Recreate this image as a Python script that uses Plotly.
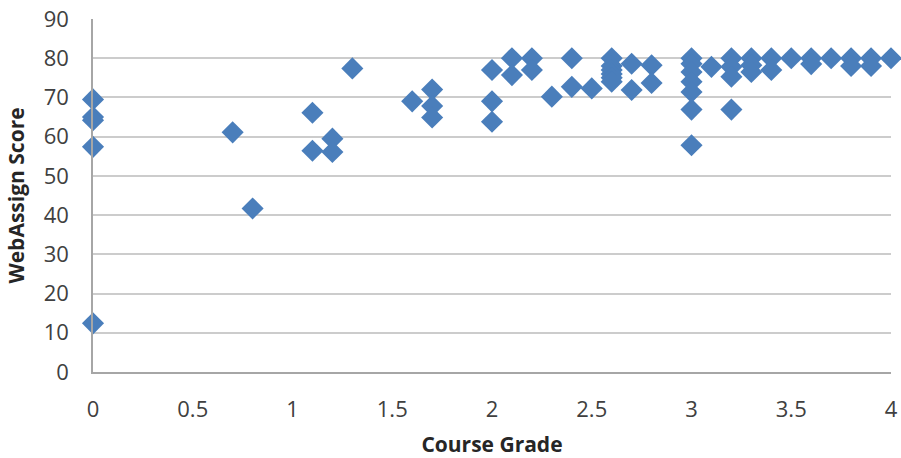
import plotly.graph_objects as go

grade = [0, 0, 0, 0, 0,
         0.7, 0.8,
         1.1, 1.1, 1.2, 1.2, 1.3,
         1.6, 1.7, 1.7, 1.7,
         2.0, 2.0, 2.0,
         2.1, 2.1, 2.2, 2.2, 2.3,
         2.4, 2.4, 2.5,
         2.6, 2.6, 2.6, 2.6, 2.6, 2.6,
         2.7, 2.7, 2.8, 2.8,
         3.0, 3.0, 3.0, 3.0, 3.0, 3.0, 3.0,
         3.1, 3.2, 3.2, 3.2, 3.2,
         3.3, 3.3, 3.3, 3.4, 3.4,
         3.5, 3.6, 3.6, 3.7, 3.8, 3.8, 3.9, 3.9, 4.0]
score = [69.5, 65, 64.2, 57.4, 12.4,
         61.1, 41.7,
         66.1, 56.4, 59.5, 56.1, 77.4,
         69, 72, 67.8, 64.9,
         77, 69, 63.8,
         80, 75.7, 80, 77, 70.2,
         80, 72.7, 72.3,
         80, 78, 77, 76, 75, 74,
         78.6, 71.9, 78.2, 73.7,
         80, 78.6, 76.5, 74, 71.4, 66.9, 57.8,
         77.8, 80, 77.8, 75.3, 66.9,
         80, 78.2, 76.5, 80, 77,
         80, 80, 78.5, 80, 80, 78, 80, 78, 80]

x_ticks = [0, 0.5, 1, 1.5, 2, 2.5, 3, 3.5, 4]
y_ticks = [0, 10, 20, 30, 40, 50, 60, 70, 80, 90]

font_family = "Open Sans, Noto Sans, sans-serif"

fig = go.Figure()
fig.add_trace(go.Scatter(
    x=grade, y=score, mode="markers",
    marker=dict(symbol="diamond", size=17, color="#4a7ebb", line=dict(width=0)),
    cliponaxis=False, showlegend=False,
))

fig.update_layout(
    width=901, height=458,
    margin=dict(l=93, r=10, t=19, b=86),
    paper_bgcolor="white", plot_bgcolor="white",
    font=dict(family=font_family, size=22, color="#404040"),
)
fig.update_xaxes(
    range=[0, 4], tickvals=x_ticks, ticktext=[f"{v:g}" for v in x_ticks],
    automargin=False,
    showgrid=False, zeroline=False,
    showline=True, linecolor="#a6a6a6", linewidth=1.5,
    ticks="outside", ticklen=17, tickcolor="rgba(0,0,0,0)",
    title=dict(text="<b>Course Grade</b>", font=dict(size=21, color="#262626"), standoff=23),
)
fig.update_yaxes(
    range=[0, 90], tickvals=y_ticks,
    automargin=False,
    showgrid=True, gridcolor="#cccccc", gridwidth=1.5,
    zeroline=False,
    showline=True, linecolor="#a6a6a6", linewidth=1.5,
    ticks="outside", ticklen=18, tickcolor="rgba(0,0,0,0)",
    title=dict(text="<b>WebAssign Score</b>", font=dict(size=21, color="#262626"), standoff=13),
)

# remove the page's default 8px body margin so the figure sits at the window origin
fig.write_html("out.html", config={"displayModeBar": False},
               post_script="document.body.style.margin='0';")
